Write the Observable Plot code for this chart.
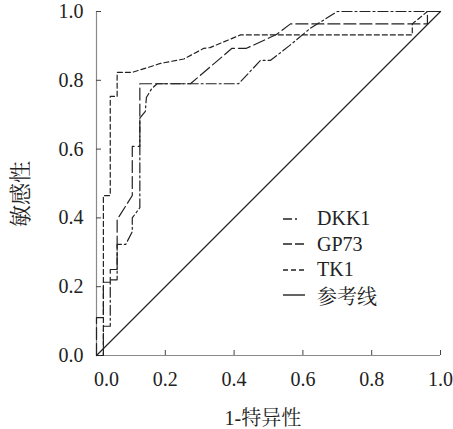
<!DOCTYPE html>
<html>
<head>
<meta charset="utf-8">
<script src="https://cdn.jsdelivr.net/npm/d3@7"></script>
<script src="https://cdn.jsdelivr.net/npm/@observablehq/plot@0.6"></script>
<style>
  body { margin: 0; background: #fff; }
  #wrap { position: relative; width: 453px; height: 429px; font-family: "Liberation Serif", "Noto Serif CJK SC", serif; color: #222; }
  .title { position: absolute; white-space: nowrap; font-size: 20px; line-height: 1; }
  #legend { position: absolute; left: 283px; top: 206px; font-size: 20px; }
  .row { display: flex; align-items: center; height: 25.5px; }
  .row svg { width: 24px; height: 10px; margin-right: 10px; }
</style>
</head>
<body>
<div id="wrap">
  <div id="chart"></div>
  <div class="title" id="xtitle">1-特异性</div>
  <div class="title" id="ytitle">敏感性</div>
  <div id="legend"></div>
</div>
<script>
// Series names and legend
const seriesNames = ["DKK1", "GP73", "TK1", "参考线"];
const seriesDash = ["10,3,2,3", "12,4", "5,3", null];

// DKK1 (dash-dot)
const dkk1X = [0, 0.02, 0.02, 0.04, 0.04, 0.06, 0.06, 0.085, 0.104, 0.104, 0.126, 0.126, 0.142, 0.145, 0.16, 0.176, 0.413, 0.477, 0.506, 0.56, 0.62, 0.70, 1.0];
const dkk1Y = [0, 0, 0.085, 0.085, 0.22, 0.22, 0.323, 0.323, 0.36, 0.40, 0.43, 0.69, 0.71, 0.75, 0.775, 0.79, 0.79, 0.858, 0.858, 0.90, 0.95, 1.0, 1.0];

// GP73 (long dash)
const gp73X = [0, 0, 0.02, 0.02, 0.04, 0.04, 0.06, 0.06, 0.104, 0.104, 0.126, 0.126, 0.273, 0.394, 0.436, 0.523, 0.564, 0.962, 0.962, 1.0];
const gp73Y = [0, 0.11, 0.11, 0.213, 0.213, 0.25, 0.25, 0.395, 0.465, 0.608, 0.608, 0.79, 0.79, 0.893, 0.893, 0.933, 0.964, 0.964, 1.0, 1.0];

// TK1 (short dash)
const tk1X = [0, 0.02, 0.02, 0.04, 0.04, 0.06, 0.06, 0.104, 0.186, 0.254, 0.312, 0.33, 0.419, 0.918, 0.918, 0.962, 1.0];
const tk1Y = [0, 0, 0.465, 0.465, 0.753, 0.753, 0.823, 0.823, 0.849, 0.862, 0.893, 0.895, 0.932, 0.932, 0.964, 1.0, 1.0];

// Reference line
const refX = [0, 1];
const refY = [0, 1];

const xTicks = [0, 0.2, 0.4, 0.6, 0.8, 1.0];
const yTicks = [0, 0.2, 0.4, 0.6, 0.8, 1.0];

const toPts = (xs, ys) => xs.map((x, i) => ({x, y: ys[i]}));
const series = [toPts(dkk1X, dkk1Y), toPts(gp73X, gp73Y), toPts(tk1X, tk1Y), toPts(refX, refY)];

const ink = "#222";
const serifFont = "'Liberation Serif', 'Noto Serif CJK SC', serif";
const marks = [
  Plot.ruleY([0], {stroke: "#8a8a8a", strokeWidth: 1.2}),
  Plot.ruleX([0], {stroke: "#8a8a8a", strokeWidth: 1.2}),
  Plot.axisX(xTicks.slice(1), {tickSize: -5, tickPadding: 21, label: null, stroke: "#444", fontFamily: serifFont, tickFormat: d3.format(".1f")}),
  Plot.axisX([xTicks[0]], {tickSize: 0, tickPadding: 16, dx: 10, label: null, fontFamily: serifFont, tickFormat: d3.format(".1f")}),
  Plot.axisY(yTicks, {tickSize: -5, tickPadding: 18, label: null, stroke: "#444", fontFamily: serifFont, tickFormat: d3.format(".1f")})
];
series.forEach((pts, i) => {
  marks.push(Plot.line(pts, {x: "x", y: "y", stroke: ink, strokeWidth: 1.2, strokeDasharray: seriesDash[i] || undefined}));
});

const chart = Plot.plot({
  width: 453,
  height: 429,
  marginLeft: 96,
  marginRight: 13,
  marginTop: 11,
  marginBottom: 74,
  x: {domain: [0, 1]},
  y: {domain: [0, 1]},
  style: {fontFamily: serifFont, fontSize: "20px", color: ink, background: "#fff", overflow: "visible"},
  marks
});
document.getElementById("chart").append(chart);

// Titles
const xt = document.getElementById("xtitle");
xt.style.left = (263 - xt.offsetWidth / 2) + "px";
xt.style.top = (418 - xt.offsetHeight / 2) + "px";
const yt = document.getElementById("ytitle");
yt.style.fontSize = "22px";
yt.style.left = (21 - yt.offsetWidth / 2) + "px";
yt.style.top = (194 - yt.offsetHeight / 2) + "px";
yt.style.transform = "rotate(-90deg)";

// Legend
const legend = document.getElementById("legend");
seriesNames.forEach((name, i) => {
  const row = document.createElement("div");
  row.className = "row";
  const w = i === 0 ? 15 : 22;
  row.innerHTML = `<svg viewBox="0 0 24 10"><line x1="0" y1="5" x2="${w}" y2="5" stroke="${ink}" stroke-width="1.4" ${seriesDash[i] ? `stroke-dasharray="${i === 0 ? "9,3,2,3" : i === 1 ? "9,3" : "5,3"}"` : ""}/></svg><span>${name}</span>`;
  legend.append(row);
});
</script>
</body>
</html>
